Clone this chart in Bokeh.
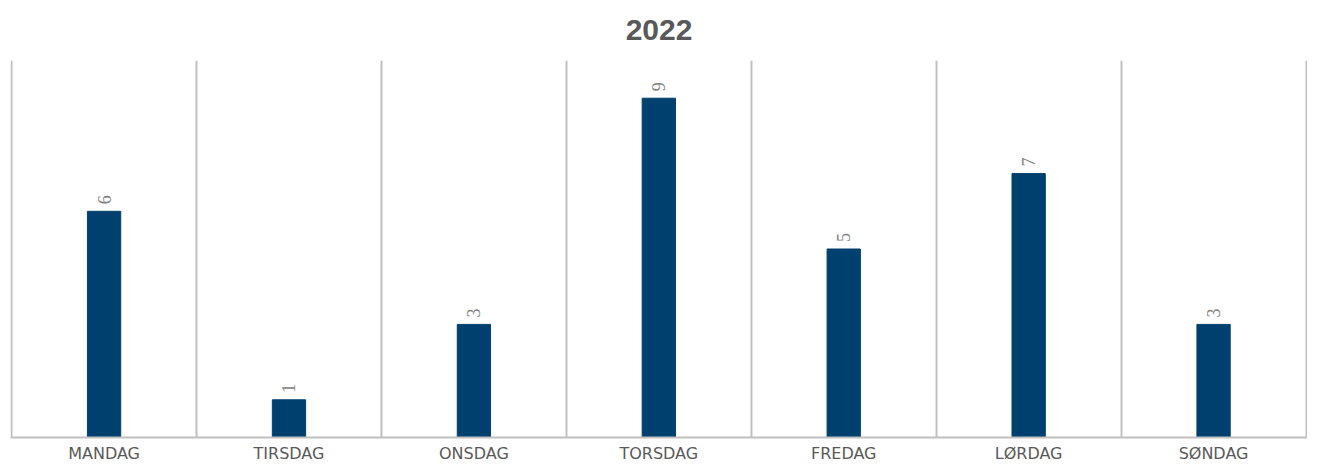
import math
from bokeh.plotting import figure
from bokeh.models import ColumnDataSource, LabelSet, FixedTicker, Range1d
from bokeh.embed import file_html
from bokeh.resources import INLINE

days = ["MANDAG", "TIRSDAG", "ONSDAG", "TORSDAG", "FREDAG", "LØRDAG", "SØNDAG"]
counts = [6, 1, 3, 9, 5, 7, 3]
title_text = "2022"

pos = [i + 0.5 for i in range(len(days))]
src = ColumnDataSource(dict(x=pos, top=counts, lbl=[str(c) for c in counts]))

p = figure(width=1307, height=465, output_backend="svg", toolbar_location=None,
           x_range=Range1d(-0.006, len(days) + 0.008), y_range=Range1d(0, 10),
           min_border_left=10, min_border_right=0, min_border_bottom=0, min_border_top=0)
p.title.text = title_text
p.title.align = "center"
p.title.vertical_align = "top"
p.title.text_font = "Liberation Sans"
p.title.text_font_size = "30px"
p.title.text_font_style = "bold"
p.title.text_color = "#595959"
p.title.offset = 0
p.title.standoff = 38

p.vbar(x="x", top="top", width=0.18, bottom=0, source=src, color="#00406f")

labels = LabelSet(x="x", y="top", text="lbl", source=src, angle=math.pi / 2,
                  text_align="left", text_baseline="middle", y_offset=7,
                  text_font="Liberation Sans", text_font_size="18px", text_color="#808080")
p.add_layout(labels)

p.outline_line_color = None
p.yaxis.visible = False
p.ygrid.visible = False
p.xgrid.ticker = FixedTicker(ticks=list(range(len(days) + 1)))
p.xgrid.grid_line_color = "#c0c0c0"
p.xgrid.grid_line_width = 2
p.xgrid.grid_line_alpha = 1.0

p.xaxis.ticker = FixedTicker(ticks=pos)
p.xaxis.major_label_overrides = {x: d for x, d in zip(pos, days)}
p.xaxis.axis_line_color = "#c0c0c0"
p.xaxis.axis_line_width = 2
p.xaxis.major_tick_line_color = None
p.xaxis.minor_tick_line_color = None
p.xaxis.major_label_standoff = 0
p.xaxis.major_label_text_font = "DejaVu Sans"
p.xaxis.major_label_text_font_size = "16px"
p.xaxis.major_label_text_color = "#595959"

open("out.html", "w").write(file_html(p, INLINE))
